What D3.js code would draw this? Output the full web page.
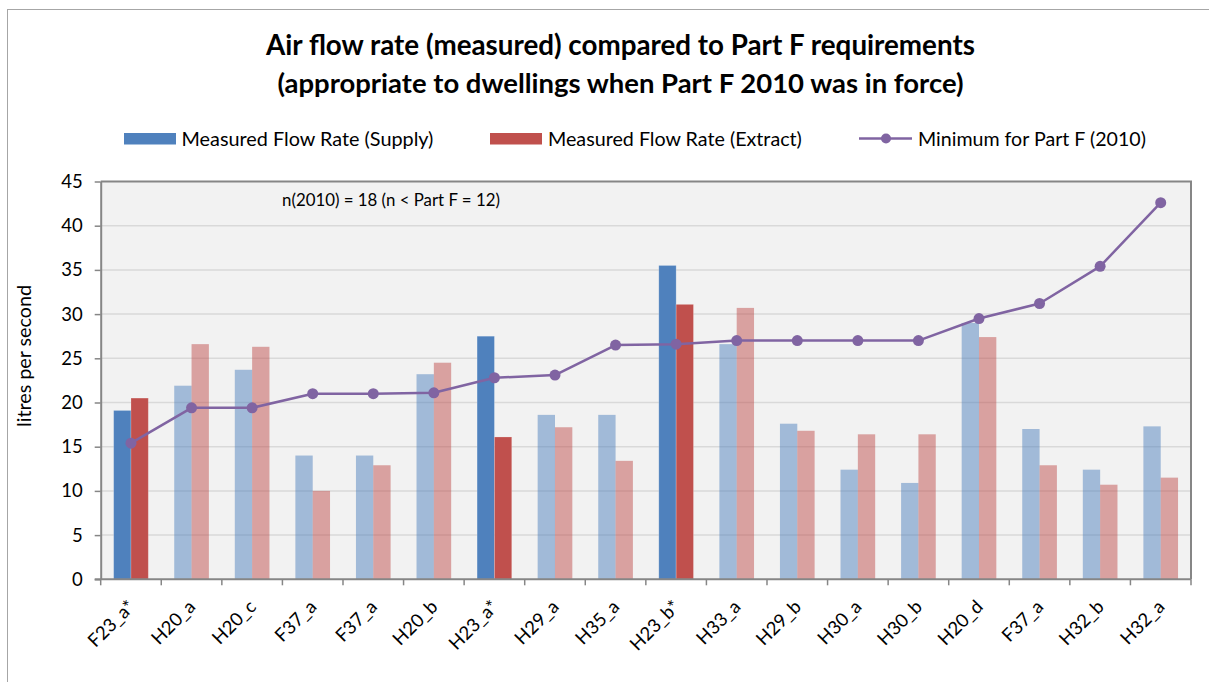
<!DOCTYPE html>
<html>
<head>
<meta charset="utf-8">
<script src="https://cdn.jsdelivr.net/npm/d3@7"></script>
<style>
  html, body { margin: 0; padding: 0; background: #ffffff; }
  svg { display: block; font-family: Lato, "Open Sans", sans-serif; }
</style>
</head>
<body>
<svg id="chart" width="1209" height="682"></svg>
<script>
// ---------------- data ----------------
const categories = ["F23_a*","H20_a","H20_c","F37_a","F37_a","H20_b","H23_a*","H29_a","H35_a","H23_b*","H33_a","H29_b","H30_a","H30_b","H20_d","F37_a","H32_b","H32_a"];
const supply  = [19.1,21.9,23.7,14.0,14.0,23.2,27.5,18.6,18.6,35.5,26.6,17.6,12.4,10.9,29.0,17.0,12.4,17.3];
const extract = [20.5,26.6,26.3,10.0,12.9,24.5,16.1,17.2,13.4,31.1,30.7,16.8,16.4,16.4,27.4,12.9,10.7,11.5];
const minimum = [15.4,19.4,19.4,21.0,21.0,21.1,22.8,23.1,26.5,26.6,27.0,27.0,27.0,27.0,29.5,31.2,35.4,42.6];
const yTicks  = [0,5,10,15,20,25,30,35,40,45];
const seriesNames = ["Measured Flow Rate (Supply)","Measured Flow Rate (Extract)","Minimum for Part F (2010)"];
const titleLines = ["Air flow rate (measured) compared to Part F requirements","(appropriate to dwellings when Part F 2010 was in force)"];
const note = "n(2010) = 18 (n < Part F = 12)";
const yTitle = "litres per second";

// ---------------- layout ----------------
const W = 1209, H = 682;
const plot = {x0: 100.7, x1: 1191, y0: 181.5, y1: 579.3};
const C = {supply: "#4F81BD", extract: "#C0504D", line: "#8064A2", bg: "#F2F2F2", grid: "#D9D9D9", axis: "#868686"};

const svg = d3.select("#chart");

// fits a text element to a target width by adjusting font-size
function fit(sel, target) {
  const node = sel.node();
  const fs = parseFloat(sel.attr("font-size"));
  const w = node.getComputedTextLength();
  if (w > 0) sel.attr("font-size", (fs * target / w).toFixed(2));
  return sel;
}

// outer frame
svg.append("rect").attr("x", 7.5).attr("y", 9.5).attr("width", 1400).attr("height", 900)
  .attr("fill", "#ffffff").attr("stroke", "#a6a6a6").attr("stroke-width", 1);

// scales
const x = d3.scaleBand().domain(d3.range(categories.length)).range([plot.x0, plot.x1]).padding(0);
const y = d3.scaleLinear().domain([0, 45]).range([plot.y1, plot.y0]);
const bw = x.bandwidth() * 0.286;
const cx = i => x(i) + x.bandwidth() / 2;
const isHi = i => categories[i].endsWith("*");

// plot background
svg.append("rect").attr("x", plot.x0).attr("y", plot.y0)
  .attr("width", plot.x1 - plot.x0).attr("height", plot.y1 - plot.y0).attr("fill", C.bg);

// gridlines
svg.append("g").selectAll("line").data(yTicks.filter(t => t > 0 && t < 45)).join("line")
  .attr("x1", plot.x0).attr("x2", plot.x1)
  .attr("y1", d => y(d)).attr("y2", d => y(d))
  .attr("stroke", C.grid).attr("stroke-width", 1.5);

// bars
const bars = svg.append("g");
bars.selectAll("rect.s").data(supply).join("rect").attr("class", "s")
  .attr("x", (d, i) => cx(i) - bw).attr("width", bw)
  .attr("y", d => y(d)).attr("height", d => y(0) - y(d))
  .attr("fill", C.supply).attr("fill-opacity", (d, i) => isHi(i) ? 1 : 0.5)
  .attr("stroke", "#ffffff").attr("stroke-opacity", (d, i) => isHi(i) ? 0.25 : 0.0).attr("stroke-width", 0.8);
bars.selectAll("rect.e").data(extract).join("rect").attr("class", "e")
  .attr("x", (d, i) => cx(i)).attr("width", bw)
  .attr("y", d => y(d)).attr("height", d => y(0) - y(d))
  .attr("fill", C.extract).attr("fill-opacity", (d, i) => isHi(i) ? 1 : 0.5)
  .attr("stroke", "#ffffff").attr("stroke-opacity", (d, i) => isHi(i) ? 0.25 : 0.0).attr("stroke-width", 0.8);

// plot border (top / right)
svg.append("path")
  .attr("d", `M${plot.x0},${plot.y0}H${plot.x1}V${plot.y1}`)
  .attr("fill", "none").attr("stroke", C.axis).attr("stroke-width", 2);

// y axis
const yAxis = d3.axisLeft(y).tickValues(yTicks).tickSize(6).tickPadding(12).tickSizeOuter(0);
const gy = svg.append("g").attr("transform", `translate(${plot.x0},0)`).call(yAxis);
gy.select(".domain").attr("stroke", C.axis).attr("stroke-width", 2);
gy.selectAll(".tick line").attr("stroke", C.axis).attr("stroke-width", 1.5);
gy.selectAll(".tick text").attr("font-size", 18.5).attr("fill", "#000").attr("font-family", "Lato, sans-serif");

// x axis (ticks at band boundaries)
const gx = svg.append("g");
gx.append("line").attr("x1", plot.x0 - 6).attr("x2", plot.x1).attr("y1", plot.y1).attr("y2", plot.y1)
  .attr("stroke", C.axis).attr("stroke-width", 2);
gx.selectAll("line.t").data(d3.range(categories.length + 1)).join("line").attr("class", "t")
  .attr("x1", i => plot.x0 + i * x.step()).attr("x2", i => plot.x0 + i * x.step())
  .attr("y1", plot.y1).attr("y2", plot.y1 + 6)
  .attr("stroke", C.axis).attr("stroke-width", 1.5);
gx.selectAll("text").data(categories).join("text")
  .attr("transform", (d, i) => `translate(${cx(i) + 5},${608}) rotate(-45)`)
  .attr("text-anchor", "end").attr("font-size", 18.5).attr("fill", "#000")
  .text(d => d);

// line series
svg.append("path").datum(minimum)
  .attr("d", d3.line().x((d, i) => cx(i)).y(d => y(d)))
  .attr("fill", "none").attr("stroke", C.line).attr("stroke-width", 2.5).attr("stroke-linejoin", "round");
svg.append("g").selectAll("circle").data(minimum).join("circle")
  .attr("cx", (d, i) => cx(i)).attr("cy", d => y(d)).attr("r", 5.5).attr("fill", C.line);

// note
fit(svg.append("text").attr("x", 282).attr("y", 206).attr("font-size", 15).attr("fill", "#000").text(note), 218);

// y title
fit(svg.append("text").attr("transform", "translate(31,356) rotate(-90)").attr("text-anchor", "middle")
  .attr("font-size", 18).attr("fill", "#000").text(yTitle), 142);

// title
fit(svg.append("text").attr("x", 620.5).attr("y", 55).attr("text-anchor", "middle")
  .attr("font-size", 24).attr("font-weight", "bold").attr("fill", "#000").text(titleLines[0]), 709);
fit(svg.append("text").attr("x", 620.5).attr("y", 93).attr("text-anchor", "middle")
  .attr("font-size", 24).attr("font-weight", "bold").attr("fill", "#000").text(titleLines[1]), 686);

// legend
const lg = svg.append("g");
lg.append("rect").attr("x", 124).attr("y", 133).attr("width", 52).attr("height", 11.5).attr("fill", C.supply);
fit(lg.append("text").attr("x", 181.5).attr("y", 145.5).attr("font-size", 18).attr("fill", "#000").text(seriesNames[0]), 252);
lg.append("rect").attr("x", 490).attr("y", 133).attr("width", 52).attr("height", 11.5).attr("fill", C.extract);
fit(lg.append("text").attr("x", 548).attr("y", 145.5).attr("font-size", 18).attr("fill", "#000").text(seriesNames[1]), 254);
lg.append("line").attr("x1", 859).attr("x2", 912).attr("y1", 138.5).attr("y2", 138.5)
  .attr("stroke", C.line).attr("stroke-width", 2.5);
lg.append("circle").attr("cx", 886).attr("cy", 138.5).attr("r", 5).attr("fill", C.line);
fit(lg.append("text").attr("x", 918).attr("y", 145.5).attr("font-size", 18).attr("fill", "#000").text(seriesNames[2]), 228);
</script>
</body>
</html>
